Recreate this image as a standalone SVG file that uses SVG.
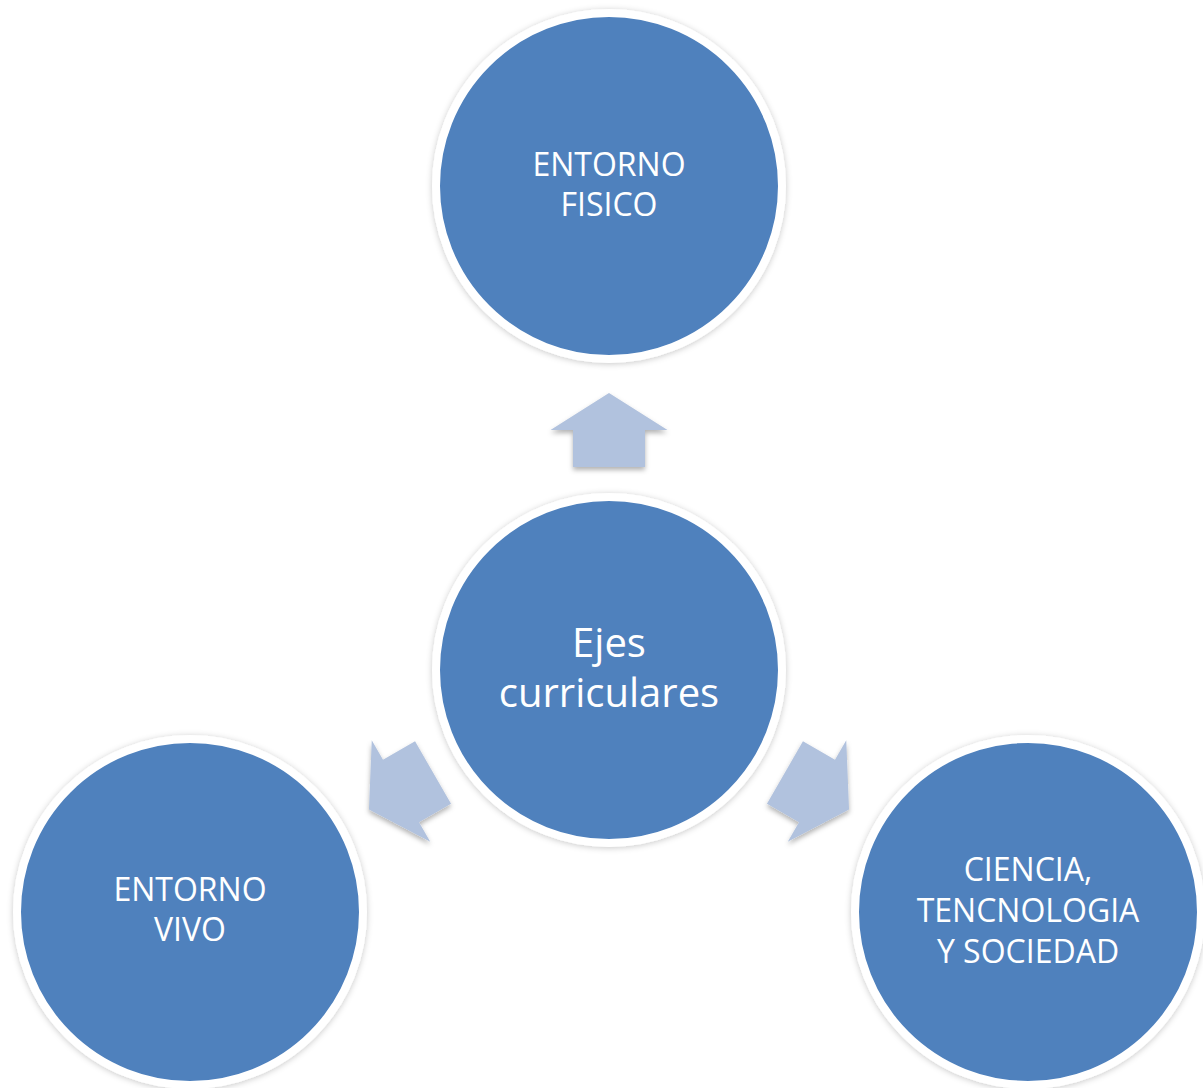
<svg xmlns="http://www.w3.org/2000/svg" xmlns:xlink="http://www.w3.org/1999/xlink" width="1203" height="1088" viewBox="0 0 1203 1088">
<style>
.circ{fill:#4F81BD;stroke:#FFFFFF;stroke-width:8}
.lbl{font-family:"Open Sans","Liberation Sans",sans-serif;fill:#FFFFFF;text-anchor:middle;font-size:32px}
.big{font-size:40px}
.arr{fill:#B1C2DE}
</style>
<defs>
<filter id="cs" x="-10%" y="-10%" width="120%" height="120%">
<feDropShadow dx="0" dy="1" stdDeviation="3" flood-color="#000" flood-opacity="0.22"/>
</filter>
<filter id="as" x="-20%" y="-20%" width="140%" height="150%">
<feDropShadow dx="0" dy="3" stdDeviation="2.5" flood-color="#000" flood-opacity="0.3"/>
</filter>
<polygon id="arrow" points="0,-37 58.5,0 36,0 36,37 -36,37 -36,0 -58.5,0"/>
</defs>
<rect width="1203" height="1088" fill="#FFFFFF"/>
<g id="connectors">
<g filter="url(#as)"><use xlink:href="#arrow" class="arr" transform="translate(609,430)"/></g>
<g filter="url(#as)"><use xlink:href="#arrow" class="arr" transform="translate(401,791) rotate(-120)"/></g>
<g filter="url(#as)"><use xlink:href="#arrow" class="arr" transform="translate(817,791) rotate(120)"/></g>
</g>
<g id="node-top">
<circle class="circ" cx="609" cy="186" r="173" filter="url(#cs)"/>
<text class="lbl" x="609" y="176">ENTORNO</text>
<text class="lbl" x="609" y="216">FISICO</text>
</g>
<g id="node-center">
<circle class="circ" cx="609" cy="670" r="173" filter="url(#cs)"/>
<text class="lbl big" x="609" y="657">Ejes</text>
<text class="lbl big" x="609" y="707">curriculares</text>
</g>
<g id="node-left">
<circle class="circ" cx="190" cy="912" r="173" filter="url(#cs)"/>
<text class="lbl" x="190" y="901">ENTORNO</text>
<text class="lbl" x="190" y="941">VIVO</text>
</g>
<g id="node-right">
<circle class="circ" cx="1028" cy="912" r="173" filter="url(#cs)"/>
<text class="lbl" x="1028" y="881">CIENCIA,</text>
<text class="lbl" x="1028" y="922">TENCNOLOGIA</text>
<text class="lbl" x="1028" y="963">Y SOCIEDAD</text>
</g>
</svg>
